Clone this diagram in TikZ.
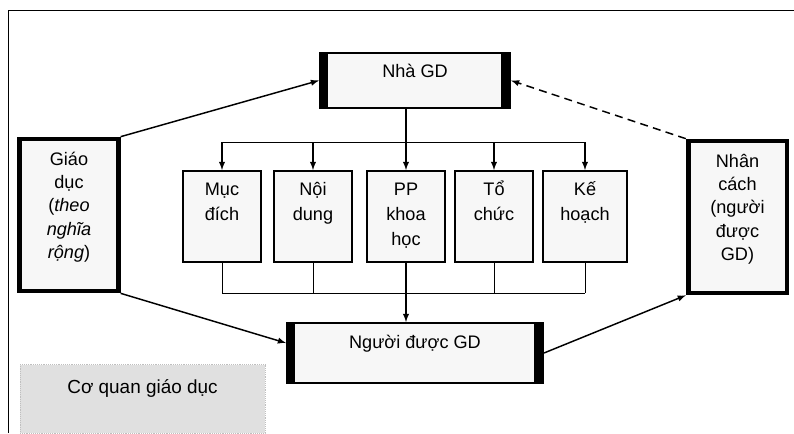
\documentclass[tikz,border=0pt]{standalone}
\usepackage{fontspec}
\setmainfont{Liberation Sans}
\usepackage{tikz}

% lines of a box, baseline at the first line
\newcommand{\lines}[1]{\begin{tabular}[t]{@{}c@{}}#1\end{tabular}}

\begin{document}
\begin{tikzpicture}[
    x=0.75pt, y=-0.75pt,
    font=\fontsize{13.6}{17.5}\selectfont,
    box/.style={rectangle, draw, line width=1.5pt, fill=black!3,
                align=center, inner sep=3pt},
    item/.style={box, minimum width=58.5pt, minimum height=68.25pt,
                 text height=15pt, text depth=47.25pt,
                 font=\fontsize{13.6}{18.75}\selectfont},
    side/.style={box, line width=3.5pt, minimum width=74pt,
                 minimum height=114pt, text height=16.5pt, text depth=91.5pt},
    bars/.style={path picture={
        \fill[black] (path picture bounding box.north west)
              rectangle ([xshift=6pt]path picture bounding box.south west);
        \fill[black] ([xshift=-7pt]path picture bounding box.north east)
              rectangle (path picture bounding box.south east);}},
    arr/.style={-latex, line width=1.1pt},
    bus/.style={semithick},
  ]

  \useasboundingbox (0,0) rectangle (794,433);

  % ── frame ──────────────────────────────────────
  \draw[semithick] (8,433) -- (8,10) -- (794,10);

  % ── main boxes ─────────────────────────────────
  \node[box, bars, minimum width=142.5pt, minimum height=41.25pt,
        text height=15pt, text depth=20.25pt] (nha) at (415,80.5) {Nhà GD};
  \node[box, bars, minimum width=192pt, minimum height=45pt,
        text height=15.75pt, text depth=23.25pt] (nguoi) at (415,353)
        {Người được GD};

  \node[side] (gd)   at (69,215)
        {\lines{Giáo\\dục\\(\textit{theo}\\\textit{nghĩa}\\\textit{rộng})}};
  \node[side] (nhan) at (737.5,217)
        {\lines{Nhân\\cách\\(người\\được\\GD)}};

  % ── components ─────────────────────────────────
  \node[item] (muc)     at (222,216.5) {\lines{Mục\\đích}};
  \node[item] (noidung) at (313,216.5) {\lines{Nội\\dung}};
  \node[item] (pp)      at (406,216.5) {\lines{PP\\khoa\\học}};
  \node[item] (tochuc)  at (494,216.5) {\lines{Tổ\\chức}};
  \node[item, minimum width=63pt] (kehoach) at (585,216.5) {\lines{Kế\\hoạch}};

  \node[fill=black!12, draw=black!25, densely dotted,
        minimum width=183.75pt, minimum height=51pt,
        font=\fontsize{14.2}{17.5}\selectfont,
        text height=18pt, text depth=27pt] (coquan) at (142.5,399)
        {Cơ quan giáo dục};

  \coordinate (bustop) at (0,142);
  \coordinate (busbot) at (0,293);

  % ── connectors ─────────────────────────────────
  \draw[arr] (gd.north east) -- (nha.west);
  \draw[arr] (gd.south east) -- ([yshift=7.5pt]nguoi.west);
  \draw[arr] (nguoi.east) -- (nhan.south west);
  \draw[arr, dash pattern=on 6pt off 4pt] (nhan.north west) -- (nha.east);

  \draw[arr] (nha.south -| pp.north) -- (pp.north);
  \draw[bus] (muc.north |- bustop) -- (kehoach.north |- bustop);
  \foreach \b in {muc, noidung, tochuc, kehoach}
    \draw[arr] (\b.north |- bustop) -- (\b.north);

  \draw[bus] (muc.south |- busbot) -- (kehoach.south |- busbot);
  \foreach \b in {muc, noidung, tochuc, kehoach}
    \draw[bus] (\b.south) -- (\b.south |- busbot);
  \draw[arr] (pp.south) -- (pp.south |- nguoi.north);

\end{tikzpicture}
\end{document}
